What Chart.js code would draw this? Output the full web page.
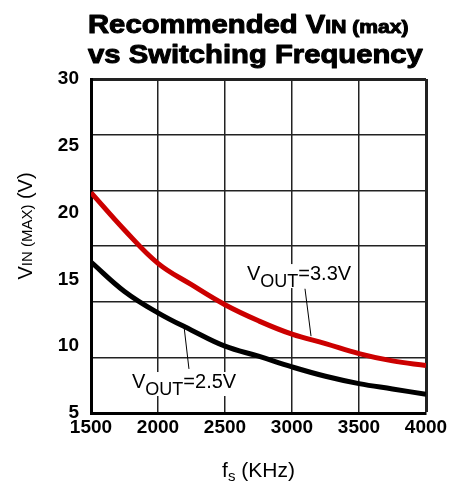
<!DOCTYPE html>
<html lang="en">

<head>
    <meta charset="UTF-8">
    <title>Recommended VIN (max) vs Switching Frequency</title>
    <script src="https://cdn.jsdelivr.net/npm/chart.js"></script>
    <style>
        body {
            margin: 0;
            background: white;
        }

        canvas {
            display: block;
        }
    </style>
</head>

<body>
    <canvas id="vinChart" width="457" height="484"></canvas>

    <script>
        // values
        const freq = [1500, 1750, 2000, 2250, 2500, 2750, 3000, 3250, 3500, 3750, 4000];
        const vin33 = [21.5, 18.7, 16.2, 14.6, 13.1, 11.9, 10.9, 10.2, 9.45, 8.9, 8.55];
        const vin25 = [16.3, 14.1, 12.5, 11.2, 10.0, 9.25, 8.45, 7.75, 7.2, 6.8, 6.4];

        const xTicks = [1500, 2000, 2500, 3000, 3500, 4000];
        const yLabels = [5, 10, 15, 20, 25, 30];
        // the original grid splits 5..30 into 6 rows, not at the labels
        const yGrid = [5, 5 + 25 / 6, 5 + 50 / 6, 17.5, 5 + 100 / 6, 5 + 125 / 6, 30];

        // curve labels: text, anchor (freq, volts), leader line from/to
        const noteRest = ['=3.3V', '=2.5V'];
        const noteAt = [[2664, 14.95], [1806, 6.87]];
        const noteLineFrom = [[3097, 14.3], [2194, 11.5]];
        const noteLineTo = [[3142, 10.75], [2231, 8.3]];

        const FONT = "'Liberation Sans', Arial, sans-serif";

        function near(list, v) {
            return list.some(a => Math.abs(a - v) < 1e-6);
        }

        function richWidth(ctx, segs) {
            let w = 0;
            segs.forEach(s => { ctx.font = s.font; w += ctx.measureText(s.t).width; });
            return w;
        }

        function drawRich(ctx, segs, x, y, align, stroke) {
            let cx = align === 'center' ? x - richWidth(ctx, segs) / 2 : x;
            segs.forEach(s => {
                ctx.font = s.font;
                ctx.fillText(s.t, cx, y + (s.dy || 0));
                if (stroke) ctx.strokeText(s.t, cx, y + (s.dy || 0));
                cx += ctx.measureText(s.t).width;
            });
        }

        const textPlugin = {
            id: 'textPlugin',
            afterDraw(chart) {
                const ctx = chart.ctx;
                const area = chart.chartArea;
                const xs = chart.scales.x, ys = chart.scales.y;
                ctx.save();
                ctx.fillStyle = '#000';
                ctx.textBaseline = 'alphabetic';
                ctx.textAlign = 'left';

                // title, heavy and wide
                const big = 'bold 25px ' + FONT, small = 'bold 18px ' + FONT;
                const line1 = [{ t: 'Recommended V', font: big }, { t: 'IN', font: small }, { t: ' (max)', font: small }];
                const line2 = [{ t: 'vs Switching Frequency', font: big }];
                ctx.strokeStyle = '#000';
                ctx.lineWidth = 1;
                ctx.lineJoin = 'round';
                [[line1, area.top - 46], [line2, area.top - 16]].forEach(([segs, y]) => {
                    ctx.save();
                    ctx.translate(area.left - 3, y);
                    ctx.scale(1.17, 1);
                    drawRich(ctx, segs, 0, 0, 'left', true);
                    ctx.restore();
                });

                // y axis title
                ctx.save();
                ctx.translate(area.left - 59, area.top + 147);
                ctx.rotate(-Math.PI / 2);
                drawRich(ctx, [
                    { t: 'V', font: '20px ' + FONT },
                    { t: 'IN', font: '15px ' + FONT },
                    { t: ' (MAX)', font: '15px ' + FONT },
                    { t: ' (V)', font: '20px ' + FONT }
                ], 0, 0, 'center');
                ctx.restore();

                // x axis title
                drawRich(ctx, [
                    { t: 'f', font: '21px ' + FONT },
                    { t: 's', font: '15px ' + FONT, dy: 4 },
                    { t: ' (KHz)', font: '21px ' + FONT }
                ], (area.left + area.right) / 2, area.bottom + 64, 'center');

                // curve labels with leader lines
                noteRest.forEach((rest, i) => {
                    const segs = [
                        { t: 'V', font: '20px ' + FONT },
                        { t: 'OUT', font: '18px ' + FONT, dy: 7 },
                        { t: rest, font: '20px ' + FONT }
                    ];
                    const px = xs.getPixelForValue(noteAt[i][0]);
                    const py = ys.getPixelForValue(noteAt[i][1]);
                    const w = richWidth(ctx, segs);
                    ctx.fillStyle = '#fff';
                    ctx.fillRect(px - 2, py - 16, w + 4, 24);
                    ctx.fillStyle = '#000';
                    drawRich(ctx, segs, px, py, 'left');

                    ctx.beginPath();
                    ctx.lineWidth = 1;
                    ctx.strokeStyle = '#000';
                    ctx.moveTo(xs.getPixelForValue(noteLineFrom[i][0]), ys.getPixelForValue(noteLineFrom[i][1]));
                    ctx.lineTo(xs.getPixelForValue(noteLineTo[i][0]), ys.getPixelForValue(noteLineTo[i][1]));
                    ctx.stroke();
                });
                ctx.restore();
            }
        };

        const tickFont = { family: FONT, size: 19, weight: 'bold' };

        const ctx = document.getElementById('vinChart').getContext('2d');
        const vinChart = new Chart(ctx, {
            type: 'line',
            data: {
                labels: freq,
                datasets: [{
                    label: 'VOUT=3.3V',
                    data: freq.map((f, i) => ({ x: f, y: vin33[i] })),
                    borderColor: '#cc0000',
                    borderWidth: 5,
                    pointRadius: 0,
                    tension: 0.4
                }, {
                    label: 'VOUT=2.5V',
                    data: freq.map((f, i) => ({ x: f, y: vin25[i] })),
                    borderColor: '#000000',
                    borderWidth: 5,
                    pointRadius: 0,
                    tension: 0.4
                }]
            },
            options: {
                responsive: false,
                animation: false,
                events: [],
                layout: {
                    padding: { top: 79, right: 31, left: 0, bottom: 0 }
                },
                plugins: {
                    legend: { display: false },
                    tooltip: { enabled: false },
                    title: { display: false }
                },
                scales: {
                    x: {
                        type: 'linear',
                        min: 1500,
                        max: 4000,
                        afterBuildTicks: s => { s.ticks = xTicks.map(v => ({ value: v })); },
                        afterFit: s => { s.height = 71; },
                        ticks: {
                            font: tickFont,
                            color: '#000',
                            padding: 3,
                            autoSkip: false,
                            maxRotation: 0,
                            callback: v => String(v)
                        },
                        grid: {
                            drawTicks: false,
                            color: '#222',
                            lineWidth: c => (c.tick && c.tick.value === 4000 ? 3 : 1.5)
                        },
                        border: { color: '#000', width: 3 }
                    },
                    y: {
                        min: 5,
                        max: 30,
                        afterBuildTicks: s => {
                            const all = yLabels.concat(yGrid.filter(v => !near(yLabels, v)));
                            s.ticks = all.sort((a, b) => a - b).map(v => ({ value: v }));
                        },
                        afterFit: s => { s.width = 91; },
                        ticks: {
                            font: tickFont,
                            color: '#000',
                            padding: 12,
                            autoSkip: false,
                            callback: v => (near(yLabels, v) ? String(v) : '')
                        },
                        grid: {
                            drawTicks: false,
                            color: c => (c.tick && near(yGrid, c.tick.value) ? '#222' : 'rgba(0,0,0,0)'),
                            lineWidth: c => (c.tick && c.tick.value === 30 ? 3 : 1.5)
                        },
                        border: { color: '#000', width: 3 }
                    }
                }
            },
            plugins: [textPlugin]
        });
    </script>
</body>

</html>
